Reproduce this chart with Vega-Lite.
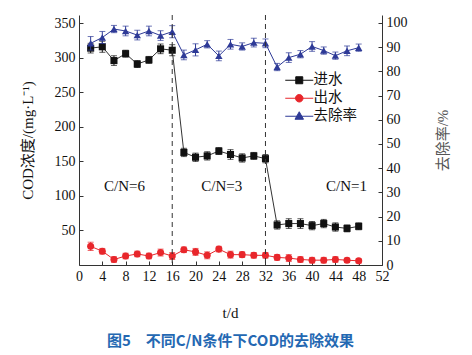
{
  "$schema": "https://vega.github.io/schema/vega-lite/v6.json",
  "width": 303,
  "height": 250,
  "autosize": {"type": "none"},
  "padding": {"left": 79, "top": 15, "right": 90, "bottom": 90},
  "background": "white",
  "config": {
    "view": {"stroke": null},
    "font": "Liberation Serif, Noto Sans CJK SC",
    "axis": {
      "grid": false,
      "labelFont": "Liberation Serif",
      "labelFontSize": 14,
      "labelColor": "#111",
      "labelOverlap": false,
      "labelBound": false,
      "titleFont": "Liberation Serif, Noto Sans CJK SC",
      "titleFontSize": 15,
      "titleFontWeight": "normal",
      "titleColor": "#111",
      "domainColor": "#333",
      "tickColor": "#333",
      "tickSize": -4,
      "labelPadding": 8
    }
  },
  "title": {
    "text": "图5　不同C/N条件下COD的去除效果",
    "orient": "bottom",
    "anchor": "middle",
    "font": "Noto Sans CJK SC",
    "fontSize": 15,
    "fontWeight": "bold",
    "color": "#2468b2",
    "offset": 14
  },
  "datasets": {
    "cod": [
      {"t": 2, "v": 314, "e": 7, "series": "进水"},
      {"t": 4, "v": 316, "e": 8, "series": "进水"},
      {"t": 6, "v": 296, "e": 7, "series": "进水"},
      {"t": 8, "v": 306, "e": 5, "series": "进水"},
      {"t": 10, "v": 291, "e": 5, "series": "进水"},
      {"t": 12, "v": 297, "e": 5, "series": "进水"},
      {"t": 14, "v": 313, "e": 7, "series": "进水"},
      {"t": 16, "v": 311, "e": 8, "series": "进水"},
      {"t": 18, "v": 163, "e": 6, "series": "进水"},
      {"t": 20, "v": 156, "e": 6, "series": "进水"},
      {"t": 22, "v": 158, "e": 6, "series": "进水"},
      {"t": 24, "v": 165, "e": 5, "series": "进水"},
      {"t": 26, "v": 160, "e": 7, "series": "进水"},
      {"t": 28, "v": 155, "e": 6, "series": "进水"},
      {"t": 30, "v": 158, "e": 5, "series": "进水"},
      {"t": 32, "v": 154, "e": 6, "series": "进水"},
      {"t": 34, "v": 58, "e": 6, "series": "进水"},
      {"t": 36, "v": 60, "e": 7, "series": "进水"},
      {"t": 38, "v": 60, "e": 7, "series": "进水"},
      {"t": 40, "v": 57, "e": 6, "series": "进水"},
      {"t": 42, "v": 60, "e": 6, "series": "进水"},
      {"t": 44, "v": 55, "e": 6, "series": "进水"},
      {"t": 46, "v": 53, "e": 5, "series": "进水"},
      {"t": 48, "v": 56, "e": 5, "series": "进水"},
      {"t": 2, "v": 27, "e": 6, "series": "出水"},
      {"t": 4, "v": 20, "e": 4, "series": "出水"},
      {"t": 6, "v": 8, "e": 4, "series": "出水"},
      {"t": 8, "v": 13, "e": 4, "series": "出水"},
      {"t": 10, "v": 16, "e": 4, "series": "出水"},
      {"t": 12, "v": 13, "e": 4, "series": "出水"},
      {"t": 14, "v": 18, "e": 5, "series": "出水"},
      {"t": 16, "v": 13, "e": 5, "series": "出水"},
      {"t": 18, "v": 22, "e": 4, "series": "出水"},
      {"t": 20, "v": 19, "e": 5, "series": "出水"},
      {"t": 22, "v": 14, "e": 5, "series": "出水"},
      {"t": 24, "v": 23, "e": 4, "series": "出水"},
      {"t": 26, "v": 15, "e": 5, "series": "出水"},
      {"t": 28, "v": 15, "e": 4, "series": "出水"},
      {"t": 30, "v": 14, "e": 4, "series": "出水"},
      {"t": 32, "v": 14, "e": 4, "series": "出水"},
      {"t": 34, "v": 11, "e": 4, "series": "出水"},
      {"t": 36, "v": 10, "e": 5, "series": "出水"},
      {"t": 38, "v": 8, "e": 4, "series": "出水"},
      {"t": 40, "v": 7, "e": 4, "series": "出水"},
      {"t": 42, "v": 7, "e": 4, "series": "出水"},
      {"t": 44, "v": 8, "e": 4, "series": "出水"},
      {"t": 46, "v": 7, "e": 3, "series": "出水"},
      {"t": 48, "v": 6, "e": 3, "series": "出水"}
    ],
    "rate": [
      {"t": 2, "v": 91.6, "e": 2.8, "series": "去除率"},
      {"t": 4, "v": 94.0, "e": 2.5, "series": "去除率"},
      {"t": 6, "v": 97.5, "e": 1.5, "series": "去除率"},
      {"t": 8, "v": 96.7, "e": 2.0, "series": "去除率"},
      {"t": 10, "v": 95.0, "e": 2.0, "series": "去除率"},
      {"t": 12, "v": 96.7, "e": 2.0, "series": "去除率"},
      {"t": 14, "v": 94.8, "e": 2.0, "series": "去除率"},
      {"t": 16, "v": 96.4, "e": 2.5, "series": "去除率"},
      {"t": 18, "v": 86.8, "e": 2.0, "series": "去除率"},
      {"t": 20, "v": 88.9, "e": 2.5, "series": "去除率"},
      {"t": 22, "v": 91.2, "e": 1.5, "series": "去除率"},
      {"t": 24, "v": 86.4, "e": 2.0, "series": "去除率"},
      {"t": 26, "v": 91.2, "e": 2.0, "series": "去除率"},
      {"t": 28, "v": 90.3, "e": 1.5, "series": "去除率"},
      {"t": 30, "v": 91.9, "e": 1.8, "series": "去除率"},
      {"t": 32, "v": 91.6, "e": 1.8, "series": "去除率"},
      {"t": 34, "v": 81.8, "e": 1.5, "series": "去除率"},
      {"t": 36, "v": 85.7, "e": 2.0, "series": "去除率"},
      {"t": 38, "v": 87.1, "e": 1.5, "series": "去除率"},
      {"t": 40, "v": 90.3, "e": 2.0, "series": "去除率"},
      {"t": 42, "v": 88.6, "e": 1.5, "series": "去除率"},
      {"t": 44, "v": 86.5, "e": 1.5, "series": "去除率"},
      {"t": 46, "v": 88.5, "e": 2.0, "series": "去除率"},
      {"t": 48, "v": 89.8, "e": 1.5, "series": "去除率"}
    ],
    "notes": [
      {"t": 7.8, "v": 114, "label": "C/N=6"},
      {"t": 24.5, "v": 114, "label": "C/N=3"},
      {"t": 45.9, "v": 114, "label": "C/N=1"}
    ],
    "dividers": [{"t": 16}, {"t": 32}],
    "keys": [{"series": "进水"}, {"series": "出水"}, {"series": "去除率"}]
  },
  "layer": [
    {
      "data": {"name": "cod"},
      "encoding": {
        "x": {
          "field": "t", "type": "quantitative",
          "scale": {"domain": [0, 52], "nice": false, "zero": false},
          "axis": {"values": [0, 4, 8, 12, 16, 20, 24, 28, 32, 36, 40, 44, 48, 52], "labelOverlap": false, "title": "t/d", "titleX": 151, "titleY": 47, "titleBaseline": "middle", "labelFlush": false}
        },
        "y": {
          "field": "v", "type": "quantitative",
          "scale": {"domain": [0, 362], "nice": false},
          "axis": {"values": [50, 100, 150, 200, 250, 300, 350], "title": "COD浓度/(mg·L⁻¹)", "titleX": -52, "titleY": 125, "titleAngle": 270, "titleBaseline": "middle"}
        }
      },
      "layer": [
        {
          "transform": [{"filter": "datum.series === '进水'"}],
          "mark": {"type": "errorbar", "ticks": {"size": 6, "color": "#111111"}, "rule": {"color": "#111111"}, "color": "#111111", "thickness": 1},
          "encoding": {"yError": {"field": "e"}}
        },
        {
          "transform": [{"filter": "datum.series === '出水'"}],
          "mark": {"type": "errorbar", "ticks": {"size": 6, "color": "#e8262b"}, "rule": {"color": "#e8262b"}, "color": "#e8262b", "thickness": 1},
          "encoding": {"yError": {"field": "e"}}
        },
        {
          "transform": [{"filter": "datum.series === '进水'"}],
          "mark": {"type": "line", "strokeWidth": 1, "color": "#333333"},
          "encoding": {}
        },
        {
          "transform": [{"filter": "datum.series === '出水'"}],
          "mark": {"type": "line", "strokeWidth": 1, "color": "#e8262b"},
          "encoding": {}
        },
        {
          "transform": [{"filter": "datum.series === '进水'"}],
          "mark": {"type": "point", "shape": "square", "filled": true, "opacity": 1, "size": 50, "color": "#111111"}
        },
        {
          "transform": [{"filter": "datum.series === '出水'"}],
          "mark": {"type": "point", "shape": "circle", "filled": true, "opacity": 1, "size": 50, "color": "#e8262b"}
        },
        {
          "data": {"name": "notes"},
          "mark": {"type": "text", "font": "Liberation Serif", "fontSize": 15, "color": "#111"},
          "encoding": {"text": {"field": "label"}}
        }
      ]
    },
    {
      "data": {"name": "rate"},
      "encoding": {
        "x": {
          "field": "t", "type": "quantitative",
          "scale": {"domain": [0, 52], "nice": false, "zero": false},
          "axis": {"values": [0, 4, 8, 12, 16, 20, 24, 28, 32, 36, 40, 44, 48, 52], "labelOverlap": false, "title": "t/d", "titleX": 151, "titleY": 47, "titleBaseline": "middle", "labelFlush": false}
        },
        "y": {
          "field": "v", "type": "quantitative",
          "scale": {"domain": [0, 103.3], "nice": false},
          "axis": {"orient": "right", "values": [0, 10, 20, 30, 40, 50, 60, 70, 80, 90, 100], "title": "去除率/%", "titleX": 60, "titleY": 125, "titleAngle": 270, "titleBaseline": "middle", "titleColor": "#555"}
        }
      },
      "layer": [
        {
          "mark": {"type": "errorbar", "ticks": {"size": 6, "color": "#2e3a97"}, "rule": {"color": "#2e3a97"}, "color": "#2e3a97", "thickness": 1},
          "encoding": {"yError": {"field": "e"}}
        },
        {
          "mark": {"type": "line", "strokeWidth": 1, "color": "#2e3a97"},
          "encoding": {}
        },
        {
          "mark": {"type": "point", "shape": "triangle-up", "filled": true, "opacity": 1, "size": 55, "color": "#2e3a97"}
        }
      ]
    },
    {
      "data": {"name": "dividers"},
      "mark": {"type": "rule", "strokeDash": [5, 4], "color": "#333", "strokeWidth": 1},
      "encoding": {
        "x": {
          "field": "t", "type": "quantitative",
          "scale": {"domain": [0, 52], "nice": false, "zero": false},
          "axis": {"values": [0, 4, 8, 12, 16, 20, 24, 28, 32, 36, 40, 44, 48, 52], "labelOverlap": false, "title": "t/d", "titleX": 151, "titleY": 47, "titleBaseline": "middle", "labelFlush": false}
        }
      }
    },
    {
      "data": {"name": "keys"},
      "mark": {"type": "point", "filled": true, "opacity": 0, "strokeWidth": 1},
      "encoding": {
        "fill": {
          "field": "series", "type": "nominal",
          "scale": {"domain": ["进水", "出水", "去除率"], "range": ["#111111", "#e8262b", "#2e3a97"]},
          "legend": {"title": null, "orient": "none", "legendX": 213, "legendY": 58, "padding": 0, "labelFont": "Noto Sans CJK SC", "labelFontSize": 14.5, "labelColor": "#111", "labelOffset": 7, "rowPadding": 3, "symbolSize": 100, "symbolOpacity": 1, "symbolStrokeWidth": 1}
        },
        "stroke": {
          "field": "series", "type": "nominal",
          "scale": {"domain": ["进水", "出水", "去除率"], "range": ["#111111", "#e8262b", "#2e3a97"]},
          "legend": {"title": null, "orient": "none", "legendX": 213, "legendY": 58, "padding": 0, "labelFont": "Noto Sans CJK SC", "labelFontSize": 14.5, "labelColor": "#111", "labelOffset": 7, "rowPadding": 3, "symbolSize": 100, "symbolOpacity": 1, "symbolStrokeWidth": 1}
        },
        "shape": {
          "field": "series", "type": "nominal",
          "scale": {"domain": ["进水", "出水", "去除率"], "range": ["M-2.8,0H2.8M-0.7,-0.7H0.7V0.7H-0.7Z", "M-2.8,0H2.8M0.75,0A0.75,0.75,0,1,1,-0.75,0A0.75,0.75,0,1,1,0.75,0Z", "M-2.8,0H2.8M0,-0.9L0.85,0.6H-0.85Z"]},
          "legend": {"title": null, "orient": "none", "legendX": 213, "legendY": 58, "padding": 0, "labelFont": "Noto Sans CJK SC", "labelFontSize": 14.5, "labelColor": "#111", "labelOffset": 7, "rowPadding": 3, "symbolSize": 100, "symbolOpacity": 1, "symbolStrokeWidth": 1}
        }
      }
    }
  ],
  "resolve": {"scale": {"y": "independent"}}
}
